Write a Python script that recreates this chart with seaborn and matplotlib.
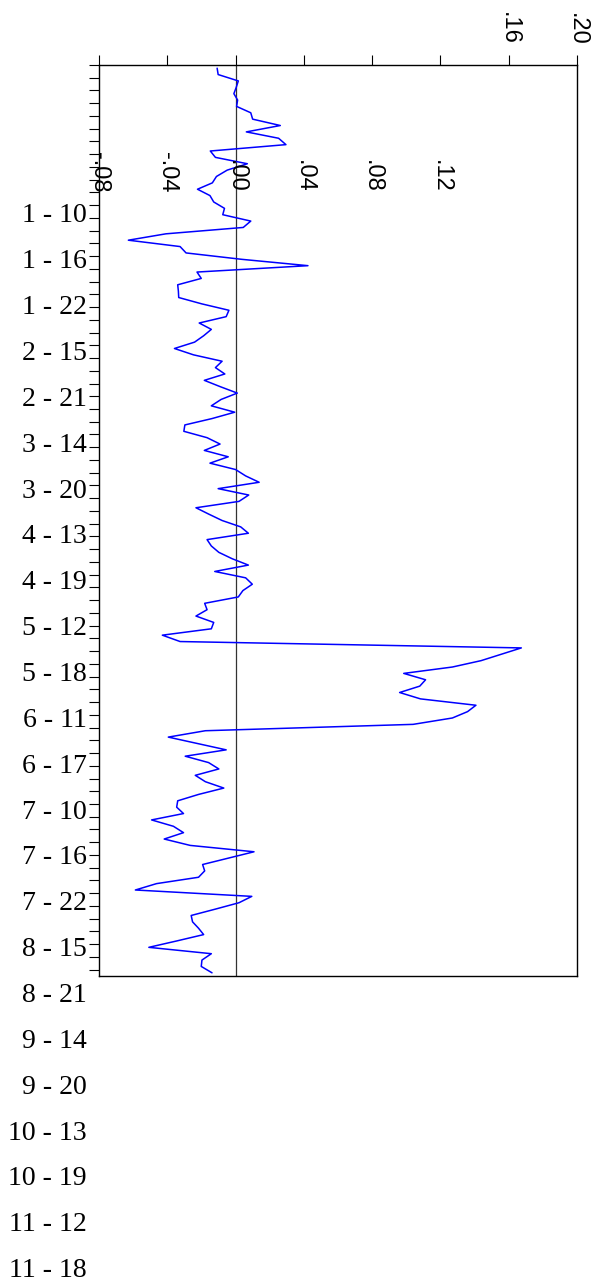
import numpy as np
import pandas as pd
import matplotlib
matplotlib.use('Agg')
import matplotlib.pyplot as plt
import matplotlib.transforms as mtransforms
import seaborn as sns

# ---- data -------------------------------------------------------------
values = [
    -0.0108, -0.0102, 0.0016, 0.0004, -0.0010, 0.0012, 0.0006, 0.0089, 0.0100, 0.0262,
    0.0063, 0.0252, 0.0295, -0.0148, -0.0118, 0.0069, -0.0049, -0.0112, -0.0136, -0.0223,
    -0.0150, -0.0128, -0.0065, -0.0075, 0.0089, 0.0045, -0.0408, -0.0628, -0.0325, -0.0290,
    0.0035, 0.0424, -0.0226, -0.0201, -0.0339, -0.0335, -0.0333, -0.0197, -0.0039, -0.0055,
    -0.0213, -0.0142, -0.0187, -0.0240, -0.0358, -0.0246, -0.0079, -0.0118, -0.0063, -0.0183,
    -0.0089, 0.0010, -0.0085, -0.0142, -0.0005, -0.0138, -0.0297, -0.0303, -0.0167, -0.0091,
    -0.0183, -0.0043, -0.0150, 0.0000, 0.0059, 0.0138, -0.0102, 0.0077, 0.0020, -0.0232,
    -0.0157, -0.0079, 0.0030, 0.0075, -0.0167, -0.0142, -0.0098, -0.0020, 0.0075, -0.0122,
    0.0059, 0.0098, 0.0043, 0.0016, -0.0181, -0.0167, -0.0232, -0.0128, -0.0142, -0.0429,
    -0.0325, 0.1674, 0.1556, 0.1438, 0.1270, 0.0985, 0.1113, 0.1079, 0.0961, 0.1083,
    0.1408, 0.1359, 0.1270, 0.1040, -0.0177, -0.0394, -0.0226, -0.0055, -0.0295, -0.0158,
    -0.0098, -0.0236, -0.0177, -0.0069, -0.0217, -0.0339, -0.0345, -0.0305, -0.0492, -0.0364,
    -0.0305, -0.0418, -0.0266, 0.0108, -0.0043, -0.0193, -0.0181, -0.0217, -0.0463, -0.0587,
    0.0095, 0.0020, -0.0118, -0.0260, -0.0252, -0.0217, -0.0187, -0.0345, -0.0508, -0.0142,
    -0.0197, -0.0201, -0.0138,
]
obs = list(range(len(values)))

value_ticks = [-0.08, -0.04, 0.00, 0.04, 0.08, 0.12, 0.16, 0.20]
value_tick_labels = ['-.08', '-.04', '.00', '.04', '.08', '.12', '.16', '.20']
outer_tick_labels = ['.16', '.20']

date_labels = ['1 - 10', '1 - 16', '1 - 22', '2 - 15', '2 - 21', '3 - 14', '3 - 20',
               '4 - 13', '4 - 19', '5 - 12', '5 - 18', '6 - 11', '6 - 17', '7 - 10',
               '7 - 16', '7 - 22', '8 - 15', '8 - 21', '9 - 14', '9 - 20', '10 - 13',
               '10 - 19', '11 - 12', '11 - 18']

# ---- style ------------------------------------------------------------
sns.set_theme(style='ticks')
plt.rcParams['font.family'] = ['Liberation Sans', 'DejaVu Sans']

W, H = 599, 1287
fig = plt.figure(figsize=(W / 100, H / 100), dpi=100)
fig.patch.set_facecolor('white')

ax = fig.add_axes([99 / W, 1 - 976 / H, 478 / W, 911 / H])
ax.set_facecolor('white')

df = pd.DataFrame({'obs': obs, 'value': values})
sns.lineplot(data=df, x='value', y='obs', orient='y', estimator=None,
             color='#0000ff', lw=1.1, ax=ax, zorder=3)
ax.axvline(0, color='#333333', lw=0.9, zorder=2)

ax.set_xlim(value_ticks[0], value_ticks[-1])
ax.set_ylim(len(values) - 0.5, -0.5)
ax.set_xlabel('')
ax.set_ylabel('')

# value axis on top, only outer labels shown there
ax.xaxis.set_ticks_position('top')
ax.set_xticks(value_ticks)
ax.set_xticklabels([l if l in outer_tick_labels else '' for l in value_tick_labels],
                   rotation=-90, fontsize=17)
ax.tick_params(axis='x', direction='out', length=7.2, width=0.8, pad=7,
               colors='black', top=True, bottom=False)

# observation ticks on the left, every 2 obs
ax.set_yticks(np.arange(-0.5, len(values) - 1, 2))
ax.set_yticklabels([])
ax.tick_params(axis='y', direction='out', length=7.2, width=0.8, left=True,
               right=False, colors='black')

for s in ax.spines.values():
    s.set_color('black')
    s.set_linewidth(1.0)

# remaining value labels drawn inside the plot area
trans = mtransforms.blended_transform_factory(ax.transData, ax.transAxes)
for v, l in zip(value_ticks, value_tick_labels):
    if l not in outer_tick_labels:
        ax.text(v, 0.8595, l, rotation=-90, ha='center', va='bottom',
                fontsize=17, transform=trans, color='black')

# date labels column
ax2 = fig.add_axes([99 / W, 1 - 1267.6 / H, 0.001, (1267.6 - 213) / H])
ax2.set_ylim(len(date_labels) - 1, 0)
ax2.set_yticks(range(len(date_labels)))
ax2.set_yticklabels(date_labels, fontfamily='Liberation Serif', fontsize=20)
ax2.tick_params(axis='y', length=0, pad=8.6, colors='black')
ax2.set_xticks([])
for s in ax2.spines.values():
    s.set_visible(False)
ax2.patch.set_visible(False)

fig.savefig('out.png', dpi=100, facecolor='white')
